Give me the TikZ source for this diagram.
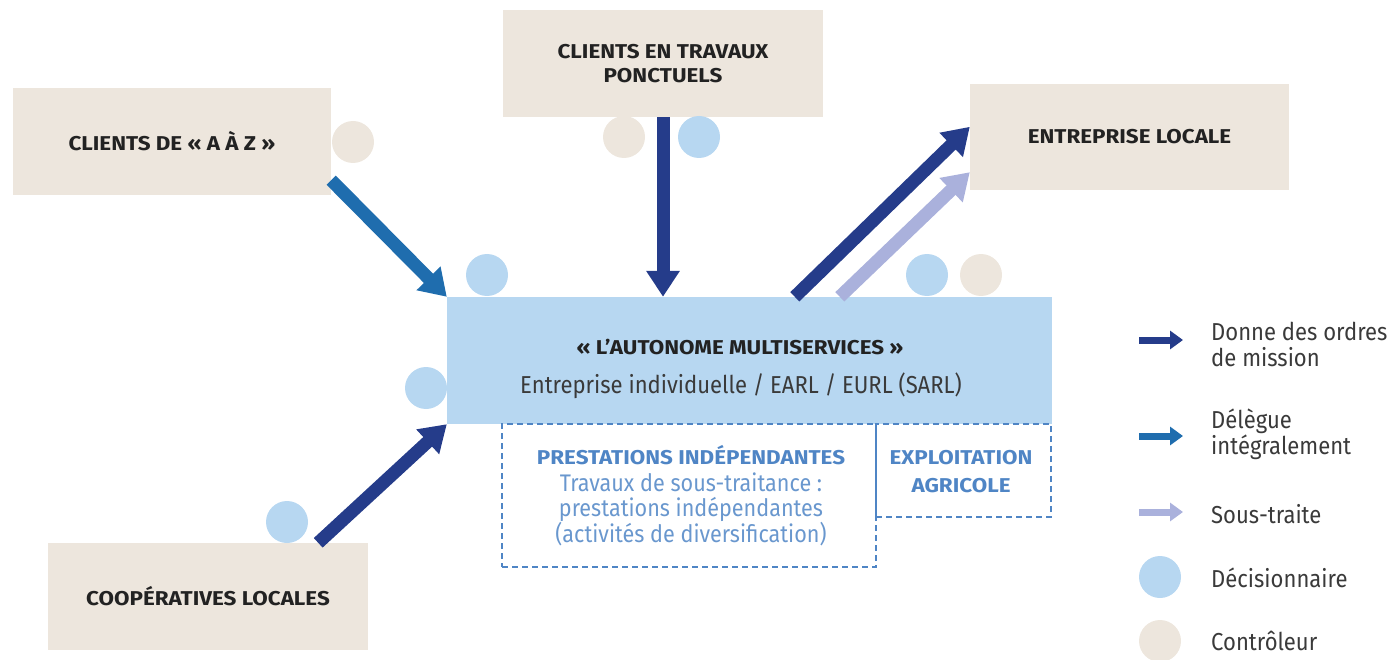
\documentclass[tikz,border=0pt]{standalone}
\usepackage{fontspec}
\setmainfont{Fira Sans}
\newfontfamily\bfam[FakeStretch=1.12]{Fira Sans}
\newfontfamily\rfam[FakeStretch=0.9]{Fira Sans}
\usetikzlibrary{arrows.meta,calc}
\definecolor{beige}{HTML}{EDE6DD}
\definecolor{lblue}{HTML}{B7D7F1}
\definecolor{navy}{HTML}{253C8A}
\definecolor{mblue}{HTML}{1F6DAE}
\definecolor{lpurp}{HTML}{AAB1DC}
\definecolor{dashc}{HTML}{4F85C5}
\definecolor{txt}{HTML}{222222}
\definecolor{body}{HTML}{3A3A3A}
\tikzset{
  actor/.style={fill=beige, draw=none, inner sep=0pt, text=txt, font=\bfam\bfseries\fontsize{20}{25}\selectfont, align=center},
  dbox/.style={draw=dashc, line width=1.8pt, dash pattern=on 6pt off 4pt, inner sep=0pt},
  decis/.style={circle, fill=lblue, minimum size=42pt, inner sep=0pt},
  contr/.style={circle, fill=beige, minimum size=42pt, inner sep=0pt},
  bigarrow/.style={line width=13pt, -{Triangle[length=26pt,width=32pt]}},
  legarrow/.style={line width=7pt, -{Triangle[length=13pt,width=18pt]}},
  legtxt/.style={anchor=west, text=body, font=\rfam\fontsize{24.5}{26}\selectfont, align=left, inner sep=0pt},
}
\begin{document}
\begin{tikzpicture}[x=1pt,y=-1pt]
\useasboundingbox (0,0) rectangle (1394,660);
% boxes
\node[actor, minimum width=318pt, minimum height=107pt] (az) at (172,141.5) {CLIENTS DE «~A~À~Z~»};
\node[actor, minimum width=320pt, minimum height=107pt] (trav) at (663,63.5) {CLIENTS EN TRAVAUX\\[-1pt]PONCTUELS};
\node[actor, minimum width=319pt, minimum height=106pt] (ent) at (1129.5,137) {ENTREPRISE LOCALE};
\node[actor, minimum width=320pt, minimum height=107pt] (coop) at (208,596.5) {COOPÉRATIVES LOCALES};
\node[fill=lblue, minimum width=605pt, minimum height=127pt, inner sep=0pt] (main) at (749.5,360.5) {};
\node[text=txt, font=\bfam\bfseries\fontsize{20}{25}\selectfont] (mt) at (740,347) {«~L’AUTONOME MULTISERVICES~»};
\node[text=body, font=\rfam\fontsize{24.5}{28}\selectfont] (ms) at (741,386) {Entreprise individuelle / EARL / EURL (SARL)};
% dashed boxes
\node[dbox, minimum width=374pt, minimum height=143pt] (d1) at (689,495.5) {};
\node[dbox, minimum width=175pt, minimum height=93pt] (d2) at (963.5,470.5) {};
\node[text=dashc, font=\bfam\bfseries\fontsize{20}{25}\selectfont] (p1) at (691,455) {PRESTATIONS INDÉPENDANTES};
\node[text=dashc!85!white, font=\rfam\fontsize{24}{25.5}\selectfont, align=center] (p2) at (691,509) {Travaux de sous-traitance :\\prestations indépendantes\\(activités de diversification)};
\node[text=dashc, font=\bfam\bfseries\fontsize{20}{28}\selectfont, align=center] (ex) at (961,472) {EXPLOITATION\\AGRICOLE};
% circles
\node[contr] (c1) at (353,142) {};
\node[contr] (c2) at (624,137) {};
\node[decis] (c3) at (699,137) {};
\node[decis] (c4) at (487,275) {};
\node[decis] (c5) at (426,388) {};
\node[decis] (c6) at (927,275) {};
\node[contr] (c7) at (981,275) {};
\node[decis] (c8) at (287,522) {};
% arrows
\draw[bigarrow, mblue] ($(az.south east)+(0,-15)$) -- (main.north west);
\draw[bigarrow, navy] (trav.south) -- (trav.south |- main.north);
\draw[bigarrow, lpurp] ($(main.north west)+(393,0)$) -- ($(ent.south west)+(0,-18)$);
\draw[bigarrow, navy] ($(main.north west)+(348,0)$) -- ($(ent.north west)+(0,43)$);
\draw[bigarrow, navy] ($(coop.north east)+(-50,0)$) -- (main.south west);
% legend
\coordinate (l1a) at (1139,340); \coordinate (l1b) at (1183,340);
\coordinate (l2a) at (1139,436); \coordinate (l2b) at (1183,436);
\coordinate (l3a) at (1139,512); \coordinate (l3b) at (1183,512);
\draw[legarrow, navy] (l1a) -- (l1b);
\draw[legarrow, mblue] (l2a) -- (l2b);
\draw[legarrow, lpurp] (l3a) -- (l3b);
\node[decis] (lc1) at (1160,577) {};
\node[contr] (lc2) at (1160,641) {};
\node[legtxt] (t1) at (1211,344) {Donne des ordres\\de mission};
\node[legtxt] (t2) at (1211,434) {Délègue\\intégralement};
\node[legtxt] (t3) at (1211,514) {Sous-traite};
\node[legtxt] (t4) at (1211,578) {Décisionnaire};
\node[legtxt] (t5) at (1211,641) {Contrôleur};
\end{tikzpicture}
\end{document}
